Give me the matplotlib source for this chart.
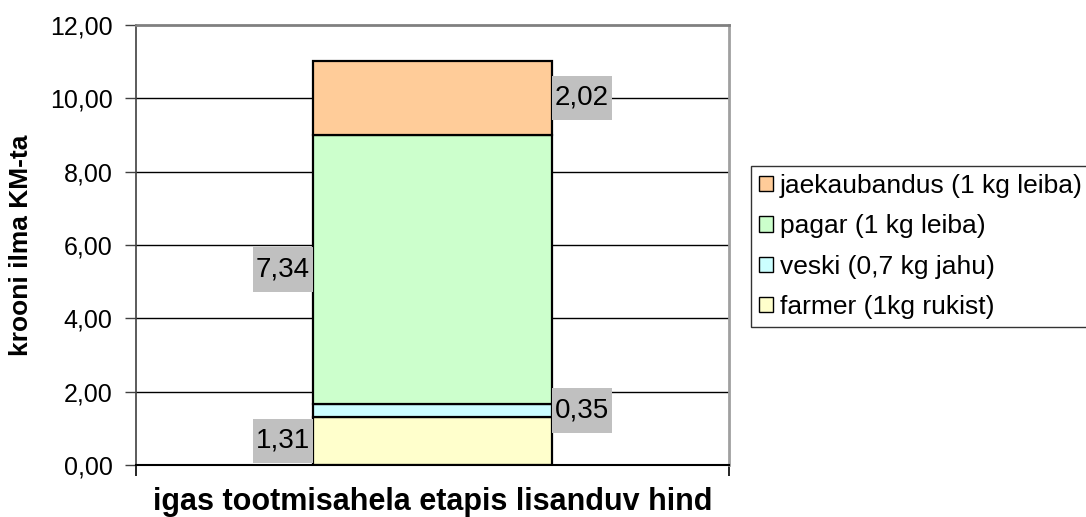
import matplotlib
matplotlib.use("Agg")
import matplotlib.pyplot as plt
from matplotlib.patches import Patch
from matplotlib.path import Path

plt.rcParams['font.family'] = ['Liberation Sans', 'DejaVu Sans']

# Data
series = ["farmer (1kg rukist)", "veski (0,7 kg jahu)", "pagar (1 kg leiba)", "jaekaubandus (1 kg leiba)"]
values = [1.31, 0.35, 7.34, 2.02]
labels = ["1,31", "0,35", "7,34", "2,02"]
label_side = ["left", "right", "left", "right"]
colors = ["#FFFFCC", "#CCFFFF", "#CCFFCC", "#FFCC99"]
yticks = [0, 2, 4, 6, 8, 10, 12]
ytick_labels = ["0,00", "2,00", "4,00", "6,00", "8,00", "10,00", "12,00"]
category = [0]

PADX, PADY = 0.1, 0.33


def label_box(x0, y0, width, height, mutation_size):
    px = PADX * mutation_size
    py = PADY * mutation_size
    x0, y0 = x0 - px, y0 - py
    x1, y1 = x0 + width + 2 * px, y0 + height + 2 * py
    return Path([(x0, y0), (x1, y0), (x1, y1), (x0, y1), (x0, y0)], closed=True)


fig = plt.figure(figsize=(10.86, 5.17), dpi=100)
ax = fig.add_axes([136/1086, 1-465/517, (729-136)/1086, (465-25)/517])

width = 0.403
bottom = 0.0
for v, c, s in zip(values, colors, series):
    ax.bar(category, [v], width=width, bottom=bottom, color=c, edgecolor="black",
           linewidth=1.6, label=s, zorder=3)
    bottom += v

ax.set_xlim(-0.5, 0.5)
ax.set_ylim(0, 12)
ax.set_yticks(yticks)
ax.set_yticklabels(ytick_labels, fontsize=18)
ax.set_xticks([-0.5, 0.5])
ax.set_xticklabels(["", ""])
ax.tick_params(axis="y", direction="out", length=8, width=1, color="#404040", pad=9)
ax.tick_params(axis="x", direction="out", length=8, width=1.2, color="black")

for y in yticks[1:-1]:
    ax.axhline(y, color="black", linewidth=1, zorder=1)

ax.spines["left"].set_color("#404040")
ax.spines["left"].set_linewidth(1.2)
ax.spines["bottom"].set_color("black")
ax.spines["bottom"].set_linewidth(1.5)
ax.spines["bottom"].set_zorder(4)
ax.spines["top"].set_color("#808080")
ax.spines["top"].set_linewidth(2)
ax.spines["right"].set_color("#A0A0A0")
ax.spines["right"].set_linewidth(2)

ax.set_ylabel("krooni ilma KM-ta", fontsize=19, fontweight="bold", labelpad=12)
ax.set_xlabel("igas tootmisahela etapis lisanduv hind", fontsize=22, fontweight="bold", labelpad=4)

# Data labels
bottom = 0.0
for v, lab, side in zip(values, labels, label_side):
    mid = bottom + v / 2
    if side == "left":
        xy = (category[0] - width / 2, mid)
        off = (-PADX * 20, 0)
        ha = "right"
    else:
        xy = (category[0] + width / 2, mid)
        off = (PADX * 20, 0)
        ha = "left"
    ax.annotate(lab, xy=xy, xytext=off, textcoords="offset points", ha=ha, va="center",
                fontsize=20, zorder=5,
                bbox=dict(boxstyle=label_box, facecolor="#C0C0C0", edgecolor="none"))
    bottom += v

handles = [Patch(facecolor=c, edgecolor="black", linewidth=1) for c in colors][::-1]
leg = fig.legend(handles, series[::-1], loc="upper left",
                 bbox_to_anchor=(751/1086, 1-166/517), fontsize=19,
                 frameon=True, fancybox=False, edgecolor="black",
                 handlelength=0.53, handleheight=0.53, handletextpad=0.27,
                 labelspacing=0.62, borderpad=0.3, borderaxespad=0)
leg.get_frame().set_linewidth(1)

fig.savefig("out.png", dpi=100)
